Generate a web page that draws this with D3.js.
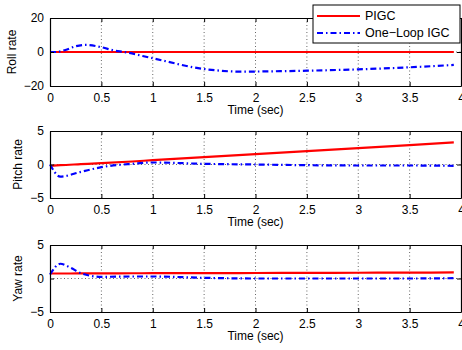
<!DOCTYPE html>
<html>
<head>
<meta charset="utf-8">
<script src="https://cdn.jsdelivr.net/npm/d3@7"></script>
<style>
  body { margin: 0; background: #fff; }
  svg { font-family: "Liberation Sans", Arial, sans-serif; }
  .axis text { font-size: 12px; fill: #000; }
  .grid line { stroke: #000; stroke-width: 0.6; stroke-dasharray: 1,2.5; }
</style>
</head>
<body>
<div id="chart"></div>
<script>
(function() {
  // time ticks shared by every panel
  const xTicks = [0, 0.5, 1, 1.5, 2, 2.5, 3, 3.5, 4];
  const seriesNames = ['PIGC', 'One\u2212Loop IGC'];

  // roll rate
  const rollT = [0, 0.05, 0.15, 0.25, 0.35, 0.5, 0.63, 0.72, 1, 1.5, 1.9, 2, 2.5, 3, 3.5, 3.93];
  const rollPIGC = [0, 0, 0, 0, 0, 0, 0, 0, 0, 0, 0, 0, 0, 0, 0, 0];
  const rollIGC = [0, 0, 1.2, 3.4, 4.2, 2.8, 0.8, 0, -3.7, -10, -11.6, -11.5, -11, -10.2, -9, -7.6];

  // pitch rate
  const pitchT = [0, 0.1, 0.3, 0.5, 0.8, 1, 1.5, 2, 2.5, 3, 3.5, 3.93];
  const pitchPIGC = [-0.2, -0.1, 0.05, 0.2, 0.45, 0.65, 1.1, 1.55, 2.0, 2.45, 2.9, 3.3];
  const pitchIGC = [0, -1.8, -1.1, -0.4, 0.1, 0.3, 0.1, 0.0, -0.1, -0.15, -0.15, -0.2];

  // yaw rate
  const yawT = [0, 0.1, 0.2, 0.3, 0.5, 0.8, 1, 1.5, 2, 2.5, 3, 3.5, 3.93];
  const yawPIGC = [0.75, 0.75, 0.75, 0.76, 0.77, 0.78, 0.79, 0.8, 0.82, 0.84, 0.86, 0.88, 0.9];
  const yawIGC = [0.6, 2.2, 1.6, 0.8, 0.25, 0.3, 0.3, 0.1, 0.0, 0.0, 0.0, 0.0, 0.05];

  const panels = [
    {label: 'Roll rate', t: rollT, a: rollPIGC, b: rollIGC, yDomain: [-20, 20], yTicks: [-20, 0, 20], top: 18, bottom: 86, labelX: 12},
    {label: 'Pitch rate', t: pitchT, a: pitchPIGC, b: pitchIGC, yDomain: [-5, 5], yTicks: [-5, 0, 5], top: 131, bottom: 198, labelX: 18},
    {label: 'Yaw rate', t: yawT, a: yawPIGC, b: yawIGC, yDomain: [-5, 5], yTicks: [-5, 0, 5], top: 245, bottom: 312, labelX: 18}
  ];

  const width = 462;
  const height = 350;
  const left = 50;
  const right = 461;

  const svg = d3.select('#chart').append('svg')
    .attr('width', width)
    .attr('height', height);

  const fmt = d => d < 0 ? '\u2212' + Math.abs(d) : String(d);

  panels.forEach(p => {
    const x = d3.scaleLinear().domain([0, 4]).range([left, right]);
    const y = d3.scaleLinear().domain(p.yDomain).range([p.bottom, p.top]);
    const g = svg.append('g');

    // grid
    const grid = g.append('g').classed('grid', true);
    grid.selectAll('line.vx')
      .data(xTicks.slice(1, -1))
      .join('line')
      .attr('x1', d => x(d)).attr('x2', d => x(d))
      .attr('y1', p.top).attr('y2', p.bottom);
    grid.selectAll('line.hy')
      .data(p.yTicks.slice(1, -1))
      .join('line')
      .attr('x1', left).attr('x2', right)
      .attr('y1', d => y(d)).attr('y2', d => y(d));

    // lines
    const line = d3.line()
      .curve(d3.curveMonotoneX)
      .x((d, i) => x(p.t[i]))
      .y(d => y(d));
    g.append('path')
      .datum(p.a)
      .attr('fill', 'none')
      .attr('stroke', '#ff0000')
      .attr('stroke-width', 2.2)
      .attr('d', line);
    g.append('path')
      .datum(p.b)
      .attr('fill', 'none')
      .attr('stroke', '#0000ff')
      .attr('stroke-width', 2.2)
      .attr('stroke-dasharray', '6,3,1.5,3')
      .attr('d', line);

    // axes, ticks pointing inward on all sides
    const ax = (axis, tr) => g.append('g').classed('axis', true)
      .attr('transform', tr)
      .call(axis)
      .call(s => s.select('.domain').attr('stroke-width', 1.2));
    ax(d3.axisBottom(x).tickValues(xTicks).tickSizeInner(-4).tickSizeOuter(0).tickPadding(7).tickFormat(d3.format('')), `translate(0,${p.bottom})`);
    ax(d3.axisTop(x).tickValues(xTicks).tickSizeInner(-4).tickSizeOuter(0).tickFormat(''), `translate(0,${p.top})`);
    ax(d3.axisLeft(y).tickValues(p.yTicks).tickSizeInner(-4).tickSizeOuter(0).tickPadding(6).tickFormat(fmt), `translate(${left},0)`);
    ax(d3.axisRight(y).tickValues(p.yTicks).tickSizeInner(-4).tickSizeOuter(0).tickFormat(''), `translate(${right},0)`);

    g.append('text')
      .attr('x', (left + right) / 2)
      .attr('y', p.bottom + 28)
      .attr('text-anchor', 'middle')
      .style('font-size', '12px')
      .text('Time (sec)');
    g.append('text')
      .attr('transform', `translate(${p.labelX}, ${(p.top + p.bottom) / 2}) rotate(-90)`)
      .attr('text-anchor', 'middle')
      .attr('dy', '0.35em')
      .style('font-size', '12px')
      .text(p.label);
  });

  // legend
  const lg = svg.append('g').attr('transform', 'translate(313, 5)');
  lg.append('rect')
    .attr('width', 147).attr('height', 38)
    .attr('fill', '#fff').attr('stroke', '#000').attr('stroke-width', 1);
  seriesNames.forEach((name, i) => {
    const yy = 11 + i * 17;
    lg.append('line')
      .attr('x1', 4).attr('x2', 47)
      .attr('y1', yy).attr('y2', yy)
      .attr('stroke', i === 0 ? '#ff0000' : '#0000ff')
      .attr('stroke-width', 2.2)
      .attr('stroke-dasharray', i === 0 ? null : '6,3,1.5,3');
    lg.append('text')
      .attr('x', 52).attr('y', yy)
      .attr('dy', '0.35em')
      .style('font-size', '12.5px')
      .text(name);
  });
})();
</script>
</body>
</html>
